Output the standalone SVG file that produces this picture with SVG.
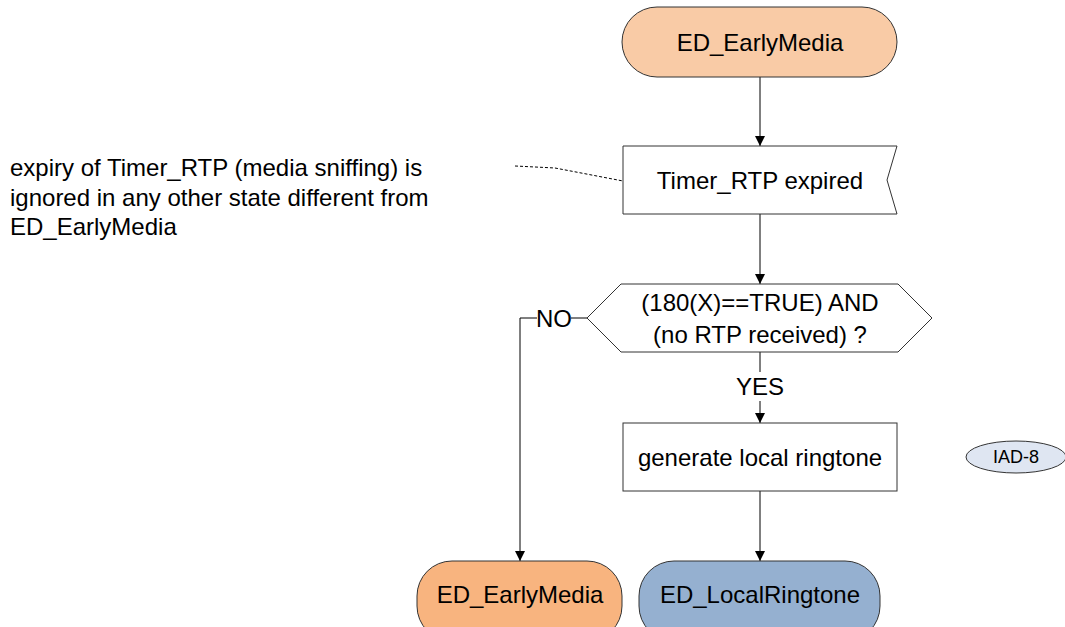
<svg xmlns="http://www.w3.org/2000/svg" width="1065" height="627" viewBox="0 0 1065 627">
<style>
text{font-family:"Liberation Sans",Arial,sans-serif;fill:#000}
.lbl{font-size:24px;text-anchor:middle;dominant-baseline:central}
.st{font-size:24px;text-anchor:middle;dominant-baseline:central}
.note{font-size:24px}
.box{fill:#fff;stroke:#333;stroke-width:1}
.term{stroke:#333;stroke-width:1}
.ln{fill:none;stroke:#000;stroke-width:1}
</style>
<defs>
<marker id="ah" viewBox="0 0 10 10" refX="10" refY="5" markerWidth="10" markerHeight="10" markerUnits="userSpaceOnUse" orient="auto">
<path d="M0,0 L10,5 L0,10 z" fill="#000"/>
</marker>
</defs>
<g id="connectors">
<line class="ln" x1="760" y1="77" x2="760" y2="146" marker-end="url(#ah)"/>
<line class="ln" x1="760" y1="214" x2="760" y2="284" marker-end="url(#ah)"/>
<line class="ln" x1="760" y1="352" x2="760" y2="372"/>
<line class="ln" x1="760" y1="401" x2="760" y2="423" marker-end="url(#ah)"/>
<line class="ln" x1="760" y1="491" x2="760" y2="561" marker-end="url(#ah)"/>
<polyline class="ln" points="587,318 571,318"/>
<polyline class="ln" points="537,318 520,318 520,561" marker-end="url(#ah)"/>
<polyline class="ln" points="515,166 555,168 623,181" stroke-dasharray="3,2"/>
<text class="lbl" x="554" y="318">NO</text>
<text class="lbl" x="760" y="386">YES</text>
</g>
<g id="note">
<text class="note" x="10" y="176">expiry of Timer_RTP (media sniffing) is</text>
<text class="note" x="10" y="206">ignored in any other state different from</text>
<text class="note" x="10" y="235">ED_EarlyMedia</text>
</g>
<g id="start">
<rect class="term" x="622" y="7" width="275" height="70" rx="35" ry="35" fill="#f9cba6"/>
<text class="st" x="760" y="42">ED_EarlyMedia</text>
</g>
<g id="timer">
<path class="box" d="M623,146 L897,146 L887,180 L897,214 L623,214 Z"/>
<text class="lbl" x="760" y="180">Timer_RTP expired</text>
</g>
<g id="decision">
<path class="box" d="M587,318 L621,284 L898,284 L932,318 L898,352 L621,352 Z"/>
<text class="lbl" x="760" y="302">(180(X)==TRUE) AND</text>
<text class="lbl" x="760" y="334">(no RTP received) ?</text>
</g>
<g id="generate">
<rect class="box" x="623" y="423" width="274" height="68"/>
<text class="lbl" x="760" y="457">generate local ringtone</text>
</g>
<g id="iad8">
<ellipse cx="1016" cy="457" rx="50" ry="16" fill="#dfe6f2" stroke="#333" stroke-width="1"/>
<text x="1016" y="457" style="font-size:18px;text-anchor:middle;dominant-baseline:central">IAD-8</text>
</g>
<g id="end-early">
<rect class="term" x="417" y="561" width="205" height="80" rx="35" ry="35" fill="#f8b47f"/>
<text class="st" x="520" y="594">ED_EarlyMedia</text>
</g>
<g id="end-ring">
<rect class="term" x="639" y="561" width="241" height="80" rx="35" ry="35" fill="#95b0d0"/>
<text class="st" x="760" y="594">ED_LocalRingtone</text>
</g>
</svg>
